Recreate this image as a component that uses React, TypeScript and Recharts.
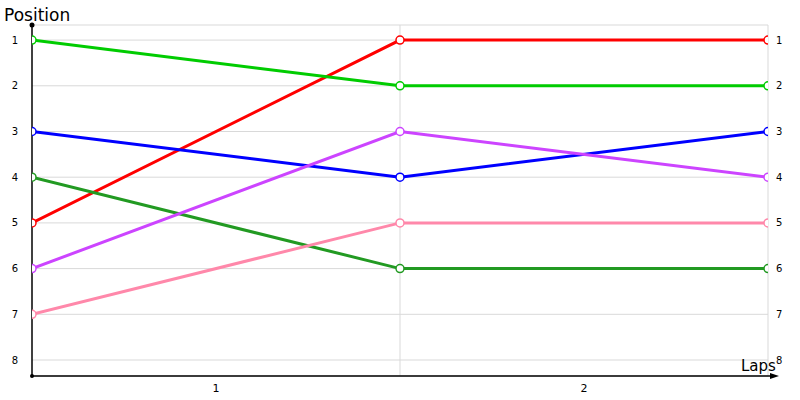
import React from 'react';
import { LineChart, Line, XAxis, YAxis, CartesianGrid, ReferenceLine } from 'recharts';

const lapPoints = [0, 1, 2];
const lapTickPositions = [0.5, 1.5];
const lapTickLabels = ['1', '2'];
const positionTicks = [1, 2, 3, 4, 5, 6, 7, 8];

const redDriver = [5, 1, 1];
const lightGreenDriver = [1, 2, 2];
const blueDriver = [3, 4, 3];
const darkGreenDriver = [4, 6, 6];
const purpleDriver = [6, 3, 4];
const pinkDriver = [7, 5, 5];

const seriesList = [
  { key: 'red', values: redDriver, color: '#ff0000' },
  { key: 'lightGreen', values: lightGreenDriver, color: '#00cc00' },
  { key: 'blue', values: blueDriver, color: '#0000ff' },
  { key: 'darkGreen', values: darkGreenDriver, color: '#229a22' },
  { key: 'purple', values: purpleDriver, color: '#cc44ff' },
  { key: 'pink', values: pinkDriver, color: '#ff88aa' },
];

const data = lapPoints.map((lap, i) => {
  const row: Record<string, number> = { lap };
  seriesList.forEach((s) => {
    row[s.key] = s.values[i];
  });
  return row;
});

const font = 'Tahoma, "DejaVu Sans", Verdana, sans-serif';

export default function App() {
  return (
    <div style={{ position: 'absolute', left: 0, top: 0, width: 800, height: 400, background: '#fff', fontFamily: font }}>
      <LineChart width={800} height={400} data={data} margin={{ top: 25, right: 0, bottom: 0, left: 0 }}>
        <CartesianGrid vertical={false} stroke="#d9d9d9" yAxisId="left" />
        <XAxis
          dataKey="lap"
          type="number"
          domain={[0, 2]}
          ticks={lapTickPositions}
          tickFormatter={(v: number) => lapTickLabels[lapTickPositions.indexOf(v)]}
          tickLine={false}
          axisLine={{ stroke: '#000', strokeWidth: 1.5 }}
          tick={{ fill: '#000', fontSize: 11, fontFamily: font }}
          tickSize={0}
          tickMargin={8}
          height={24}
          allowDataOverflow
        />
        <YAxis
          yAxisId="left"
          type="number"
          reversed
          domain={[0.67, 8.35]}
          ticks={positionTicks}
          tickLine={false}
          tickSize={0}
          tickMargin={14}
          axisLine={{ stroke: '#000', strokeWidth: 1.5 }}
          tick={{ fill: '#000', fontSize: 10, fontFamily: font }}
          width={32}
          allowDataOverflow
        />
        <YAxis
          yAxisId="right"
          orientation="right"
          type="number"
          reversed
          domain={[0.67, 8.35]}
          ticks={positionTicks}
          tickLine={false}
          tickSize={0}
          tickMargin={8}
          axisLine={false}
          tick={{ fill: '#000', fontSize: 10, fontFamily: font, textAnchor: 'start' }}
          width={32}
          allowDataOverflow
        />
        <ReferenceLine yAxisId="left" x={1} stroke="#d9d9d9" />
        <ReferenceLine yAxisId="left" x={2} stroke="#d9d9d9" />
        {seriesList.map((s) => (
          <Line
            key={s.key}
            yAxisId="left"
            type="linear"
            dataKey={s.key}
            stroke={s.color}
            strokeWidth={3}
            dot={{ r: 4, fill: '#fff', stroke: s.color, strokeWidth: 1.5 }}
            activeDot={false}
            isAnimationActive={false}
          />
        ))}
      </LineChart>
      <svg width={800} height={400} style={{ position: 'absolute', left: 0, top: 0, pointerEvents: 'none' }}>
        <circle cx={32} cy={25} r={2.5} fill="#000" />
        <circle cx={32} cy={376} r={2} fill="#000" />
        <line x1={768} y1={376} x2={772} y2={376} stroke="#000" strokeWidth={1.5} />
        <path d="M770,373 L779,376 L770,379 Z" fill="#000" />
        <text x={4} y={21} fontSize={17} fill="#000" fontFamily={font}>Position</text>
        <text x={741} y={371} fontSize={15} fill="#000" fontFamily={font}>Laps</text>
      </svg>
    </div>
  );
}
